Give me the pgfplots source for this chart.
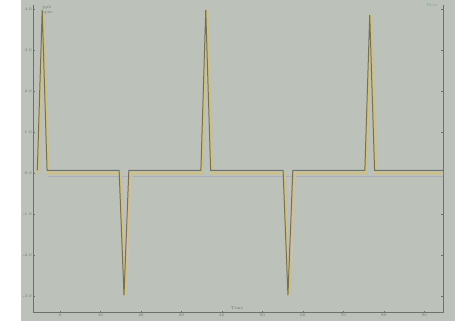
\documentclass[border=0pt]{standalone}
\usepackage{pgfplots}
\pgfplotsset{compat=1.18}
\definecolor{bg}{RGB}{188,193,186}
\definecolor{ax}{RGB}{108,113,110}
\definecolor{tanc}{RGB}{204,192,140}
\definecolor{pinkish}{RGB}{216,188,186}
\definecolor{blueish}{RGB}{168,174,190}
\definecolor{greentxt}{RGB}{120,170,120}
\begin{document}
\begin{tikzpicture}[x=1pt,y=1pt]
\fill[white] (0,0) rectangle (455,321);
\fill[bg] (21,0) rectangle (455,321);
\begin{axis}[at={(33pt,8pt)}, anchor=south west, scale only axis,
  width=410pt, height=308pt,
  xmin=-0.667, xmax=9.46, ymin=-3.41, ymax=4.1,
  axis x line*=bottom, axis y line*=box,
  axis line style={ax, line width=1pt},
  xtick={0,...,9}, xticklabels={0,10,20,30,40,50,60,70,80,90},
  ytick={-3,...,4}, yticklabels={-3.0,-2.0,-1.0,0.0,1.0,2.0,3.0,4.0},
  major tick length=2pt, tick style={ax},
  tick label style={font=\fontsize{4}{5}\selectfont, text=ax},
  yticklabel style={inner sep=1pt},
  xticklabel style={inner sep=1pt},
  clip=false]
\addplot[blueish, line width=0.8pt] coordinates {(-0.30,-0.08) (9.46,-0.08)};
\addplot[tanc, line width=3pt] coordinates {
 (-0.52,0) (-0.40,3.96) (-0.27,0)
 (1.50,0) (1.63,-2.98) (1.76,0)
 (3.52,0) (3.65,3.98) (3.78,0)
 (5.55,0) (5.68,-2.98) (5.81,0)
 (7.57,0) (7.70,3.85) (7.83,0) (9.46,0)};
\addplot[pinkish, line width=0.6pt] coordinates {
 (1.60,0.2) (1.68,-2.2) (1.76,0.2)};
\addplot[pinkish, line width=0.6pt] coordinates {
 (5.65,0.2) (5.73,-2.2) (5.81,0.2)};
\addplot[ax, line width=1pt] coordinates {
 (-0.56,0.07) (-0.44,3.98) (-0.32,0.07)
 (1.46,0.07) (1.58,-2.98) (1.70,0.07)
 (3.48,0.07) (3.60,3.98) (3.72,0.07)
 (5.51,0.07) (5.63,-2.98) (5.75,0.07)
 (7.53,0.07) (7.65,3.85) (7.77,0.07) (9.46,0.07)};
\end{axis}
\node[font=\fontsize{4}{5}\selectfont, text=ax, align=center] at (47,311) {ppb\\ppm};
\node[font=\fontsize{4}{5}\selectfont, text=greentxt] at (432,316) {Flow};
\node[font=\fontsize{4}{5}\selectfont, text=ax] at (237,13) {Time};
\end{tikzpicture}
\end{document}
